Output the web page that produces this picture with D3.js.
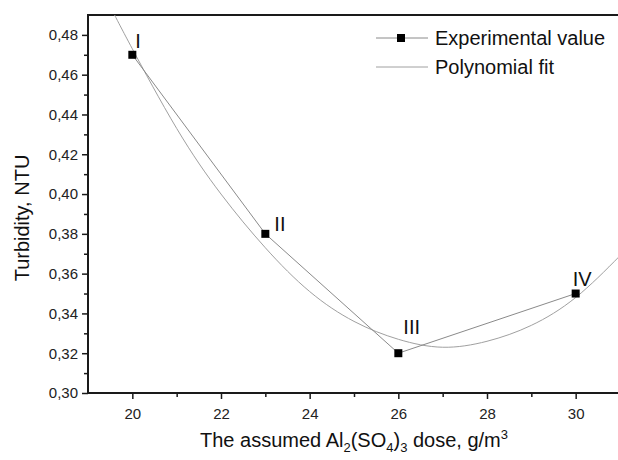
<!DOCTYPE html>
<html>
<head>
<meta charset="utf-8">
<script src="https://cdn.jsdelivr.net/npm/d3@7/dist/d3.min.js"></script>
<style>
  html, body { margin: 0; padding: 0; background: #fff; }
  svg { display: block; font-family: "Liberation Sans", Arial, sans-serif; }
</style>
</head>
<body>
<svg id="chart" width="618" height="460"></svg>
<script>
// ---- data ----
const xTickValues = [20, 22, 24, 26, 28, 30];
const xMinorValues = [21, 23, 25, 27, 29, 31];
const yTickValues = [0.30, 0.32, 0.34, 0.36, 0.38, 0.40, 0.42, 0.44, 0.46, 0.48];
const yMinorValues = [0.31, 0.33, 0.35, 0.37, 0.39, 0.41, 0.43, 0.45, 0.47];

const doses = [20, 23, 26, 30];
const turbidity = [0.47, 0.38, 0.32, 0.35];
const pointLabels = ["I", "II", "III", "IV"];

const fitDoses = [19.6, 20, 21, 22, 23, 24, 25, 26, 27, 28, 29, 30, 31];
const fitTurbidity = [0.490, 0.473, 0.433, 0.400, 0.373, 0.351, 0.336, 0.327, 0.323, 0.326, 0.334, 0.348, 0.369];

const legendLabels = ["Experimental value", "Polynomial fit"];

// ---- layout ----
const svg = d3.select("#chart");
const pLeft = 88, pRight = 620, pTop = 15, pBottom = 393;

const x = d3.scaleLinear().domain([19, 31]).range([pLeft, pRight]);
const y = d3.scaleLinear().domain([0.30, 0.49]).range([pBottom, pTop]);

const axisColor = "#1a1a1a";
const lineColor = "#8a8a8a";

svg.append("defs").append("clipPath").attr("id", "plotClip")
  .append("rect").attr("x", pLeft).attr("y", pTop).attr("width", pRight - pLeft).attr("height", pBottom - pTop);

// ---- axes ----
const fmt = d => d3.format(".2f")(d).replace(".", ",");

const gy = svg.append("g").attr("transform", `translate(${pLeft},0)`)
  .call(d3.axisLeft(y).tickValues(yTickValues).tickSize(6).tickPadding(4).tickFormat(fmt));
const gyMinor = svg.append("g").attr("transform", `translate(${pLeft},0)`)
  .call(d3.axisLeft(y).tickValues(yMinorValues).tickSize(4).tickFormat(""));

const gx = svg.append("g").attr("transform", `translate(0,${pBottom})`)
  .call(d3.axisBottom(x).tickValues(xTickValues).tickSize(6).tickPadding(9).tickFormat(d3.format("d")));
const gxMinor = svg.append("g").attr("transform", `translate(0,${pBottom})`)
  .call(d3.axisBottom(x).tickValues(xMinorValues).tickSize(4).tickFormat(""));

[gy, gyMinor, gx, gxMinor].forEach(g => {
  g.select(".domain").remove();
  g.selectAll(".tick line").attr("stroke", axisColor).attr("stroke-width", 1.5);
  g.selectAll(".tick text").attr("fill", "#222").style("font-size", "15px")
    .style("font-family", "'Liberation Sans', Arial, sans-serif");
});

// frame
svg.append("path")
  .attr("d", `M${pRight},${pTop}H${pLeft}V${pBottom}H${pRight}`)
  .attr("fill", "none").attr("stroke", axisColor).attr("stroke-width", 2);

// ---- fit curve ----
const fitLine = d3.line().x((d, i) => x(fitDoses[i])).y(d => y(d)).curve(d3.curveNatural);
svg.append("path")
  .attr("clip-path", "url(#plotClip)")
  .attr("d", fitLine(fitTurbidity))
  .attr("fill", "none").attr("stroke", "#a0a0a0").attr("stroke-width", 1);

// ---- experimental ----
const expLine = d3.line().x((d, i) => x(doses[i])).y(d => y(d));
svg.append("path")
  .attr("d", expLine(turbidity))
  .attr("fill", "none").attr("stroke", lineColor).attr("stroke-width", 1);

const ms = 8;
svg.selectAll("rect.pt").data(turbidity).join("rect")
  .attr("class", "pt")
  .attr("x", (d, i) => x(doses[i]) - ms / 2)
  .attr("y", d => y(d) - ms / 2)
  .attr("width", ms).attr("height", ms).attr("fill", "#000");

// point labels (offsets relative to the marker)
const labelOffsets = [[3, -7], [9, -3], [5, -19], [-3, -8]];
svg.selectAll("text.plab").data(pointLabels).join("text")
  .attr("class", "plab")
  .attr("x", (d, i) => x(doses[i]) + labelOffsets[i][0])
  .attr("y", (d, i) => y(turbidity[i]) + labelOffsets[i][1])
  .attr("fill", "#111").style("font-size", "20px")
  .text(d => d);

// ---- legend ----
const lg = svg.append("g");
lg.append("line").attr("x1", 376).attr("x2", 428).attr("y1", 38).attr("y2", 38)
  .attr("stroke", lineColor).attr("stroke-width", 1);
lg.append("rect").attr("x", 401 - ms / 2).attr("y", 38 - ms / 2).attr("width", ms).attr("height", ms).attr("fill", "#000");
lg.append("line").attr("x1", 376).attr("x2", 428).attr("y1", 67).attr("y2", 67)
  .attr("stroke", "#a0a0a0").attr("stroke-width", 1);
lg.selectAll("text").data(legendLabels).join("text")
  .attr("x", 435).attr("y", (d, i) => 45 + i * 29)
  .attr("fill", "#111").style("font-size", "20px")
  .text(d => d);

// ---- axis titles ----
svg.append("text")
  .attr("transform", `translate(29,${(pTop + pBottom) / 2 + 14}) rotate(-90)`)
  .attr("text-anchor", "middle").attr("fill", "#111").style("font-size", "20px")
  .text("Turbidity, NTU");

const xt = svg.append("text")
  .attr("x", 354).attr("y", 447).attr("text-anchor", "middle")
  .attr("fill", "#111").style("font-size", "20px");
xt.append("tspan").text("The assumed Al");
xt.append("tspan").attr("dy", 5).style("font-size", "13px").text("2");
xt.append("tspan").attr("dy", -5).text("(SO");
xt.append("tspan").attr("dy", 5).style("font-size", "13px").text("4");
xt.append("tspan").attr("dy", -5).text(")");
xt.append("tspan").attr("dy", 5).style("font-size", "13px").text("3");
xt.append("tspan").attr("dy", -5).text(" dose, g/m");
xt.append("tspan").attr("dy", -8).style("font-size", "13px").text("3");
</script>
</body>
</html>
